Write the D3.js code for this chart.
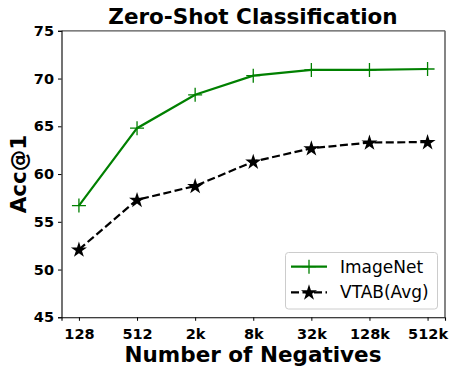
<!DOCTYPE html>
<html><head><meta charset="utf-8">
<script src="https://cdn.jsdelivr.net/npm/d3@7"></script>
<style>body{margin:0;background:#fff}svg{display:block}text{font-family:"DejaVu Sans",sans-serif}</style>
</head><body>
<script>
const categories = ["128","512","2k","8k","32k","128k","512k"];
const imagenet = [56.7, 64.8, 68.3, 70.3, 70.9, 70.9, 71.0];
const vtab = [52.1, 57.3, 58.75, 61.3, 62.7, 63.3, 63.35];
const yTicks = [45,50,55,60,65,70,75];

const W=457,H=373;
const m={l:61.5,t:30.8,r:445,b:317.3};
const svg=d3.select("body").append("svg").attr("width",W).attr("height",H);
const n=categories.length;
const x=d3.scaleLinear().domain([-0.3,n-1+0.3]).range([m.l,m.r]);
const y=d3.scaleLinear().domain([45,75]).range([m.b,m.t]);

// spines
svg.append("line").attr("x1",m.l).attr("x2",m.r).attr("y1",m.t).attr("y2",m.t).attr("stroke","#555").attr("stroke-width",1.3);
svg.append("line").attr("x1",m.r).attr("x2",m.r).attr("y1",m.t).attr("y2",m.b).attr("stroke","#666").attr("stroke-width",1.6);

const xa=svg.append("g").attr("transform",`translate(0,${m.b})`)
  .call(d3.axisBottom(x).tickValues(d3.range(n)).tickFormat(i=>categories[i]).tickSize(3.5).tickPadding(4));
const ya=svg.append("g").attr("transform",`translate(${m.l},0)`)
  .call(d3.axisLeft(y).tickValues(yTicks).tickSize(3.5).tickPadding(4));
[xa,ya].forEach(g=>{
  g.selectAll("text").attr("font-size",14.5).attr("font-weight","bold").attr("fill","#000").attr("font-family","DejaVu Sans");
  g.select(".domain").attr("stroke","#000").attr("stroke-width",1.1);
  g.selectAll(".tick line").attr("stroke","#000");
});
xa.selectAll("text").attr("dy","0.95em");

const line=d3.line().x((d,i)=>x(i)).y(d=>y(d));
svg.append("path").datum(imagenet).attr("d",line).attr("fill","none").attr("stroke","#008000").attr("stroke-width",2.2);
svg.append("path").datum(vtab).attr("d",line).attr("fill","none").attr("stroke","#000").attr("stroke-width",2.2).attr("stroke-dasharray","8,3.5");

const plus=(g,cx,cy)=>{g.append("path").attr("d",`M${cx-7},${cy}H${cx+7}M${cx},${cy-7}V${cy+7}`).attr("stroke","#008000").attr("stroke-width",1.3).attr("fill","none");};
const star=d3.symbol().type(d3.symbolStar).size(80);
imagenet.forEach((v,i)=>plus(svg,x(i),y(v)));
vtab.forEach((v,i)=>svg.append("path").attr("d",star()).attr("transform",`translate(${x(i)},${y(v)+0.5})`).attr("fill","#000"));

// title and labels
svg.append("text").attr("x",253).attr("y",24).attr("text-anchor","middle").attr("font-size",21.5).attr("font-weight","bold").text("Zero-Shot Classification");
svg.append("text").attr("x",253).attr("y",362).attr("text-anchor","middle").attr("font-size",21.5).attr("font-weight","bold").text("Number of Negatives");
svg.append("text").attr("transform","translate(26,174) rotate(-90)").attr("text-anchor","middle").attr("font-size",21.5).attr("font-weight","bold").text("Acc@1");

// legend
const lg=svg.append("g");
lg.append("rect").attr("x",285.5).attr("y",252.5).attr("width",152).attr("height",56.5).attr("rx",3).attr("fill","#fff").attr("fill-opacity",0.8).attr("stroke","#ccc").attr("stroke-width",1);
lg.append("line").attr("x1",291).attr("x2",327).attr("y1",266.7).attr("y2",266.7).attr("stroke","#008000").attr("stroke-width",2.2);
plus(lg,309,266.7);
lg.append("line").attr("x1",291).attr("x2",327).attr("y1",292.3).attr("y2",292.3).attr("stroke","#000").attr("stroke-width",2.2).attr("stroke-dasharray","8,3.5");
lg.append("path").attr("d",star()).attr("transform","translate(309,292.8)").attr("fill","#000");
lg.append("text").attr("x",340).attr("y",272.5).attr("font-size",17).text("ImageNet");
lg.append("text").attr("x",340).attr("y",298).attr("font-size",17).text("VTAB(Avg)");
</script>
</body></html>
